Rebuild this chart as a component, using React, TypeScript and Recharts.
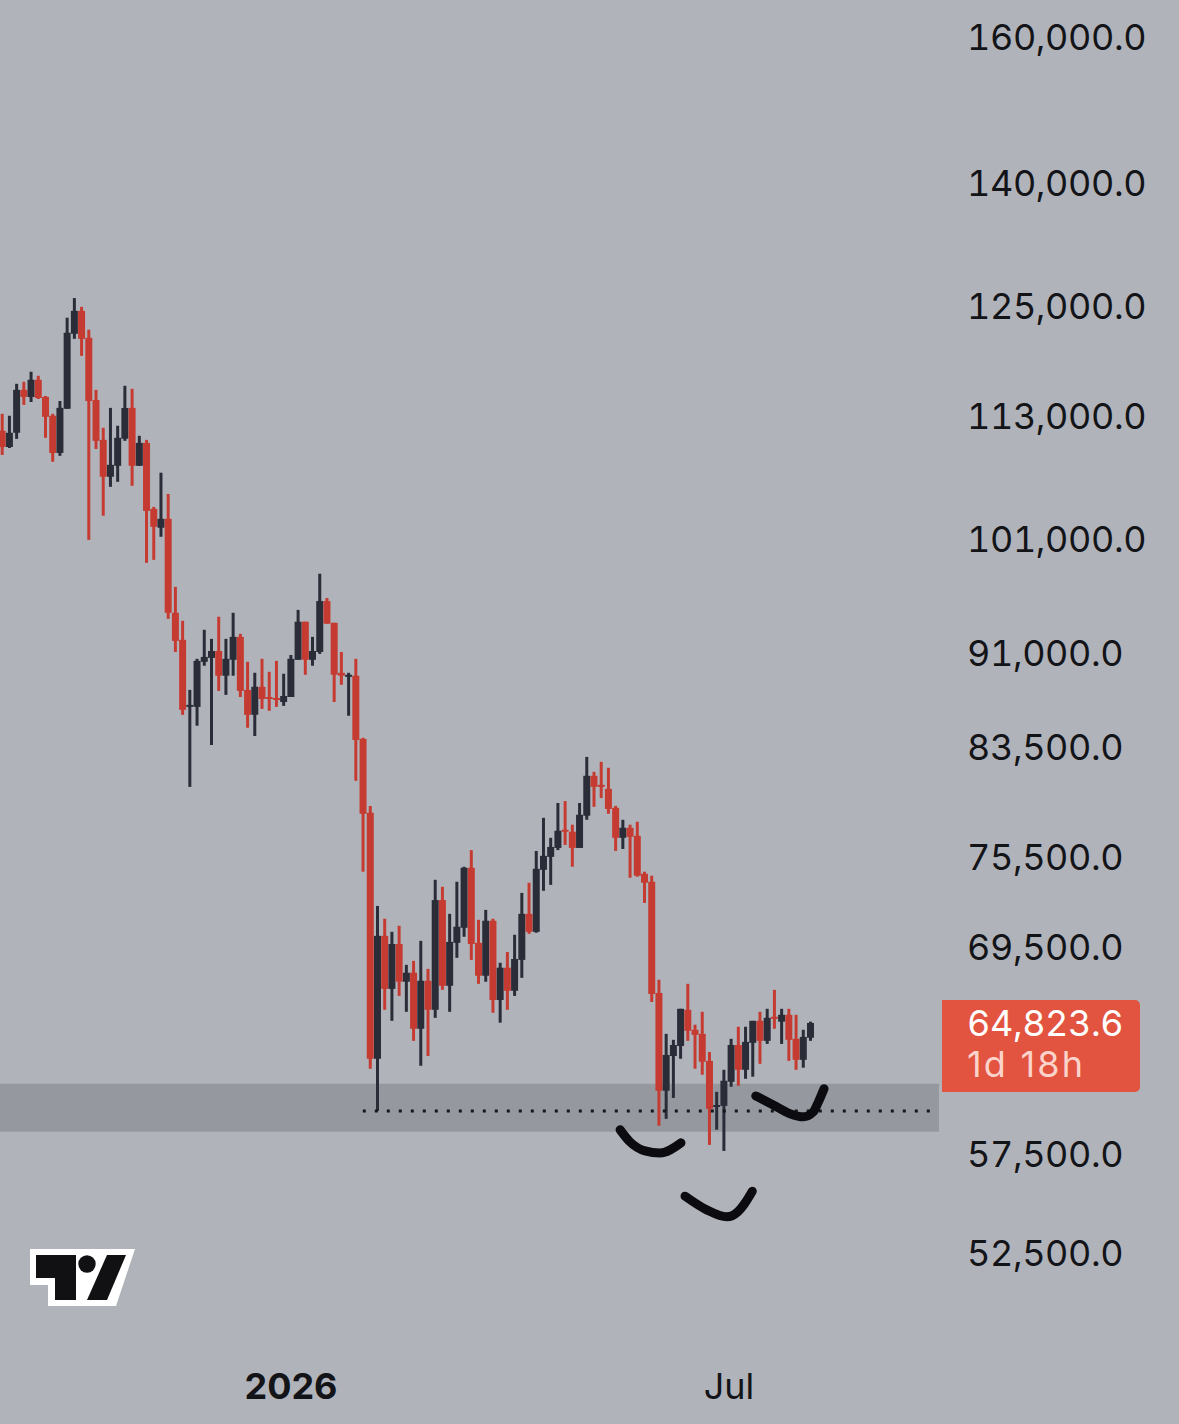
import {
  Bar,
  Cell,
  ComposedChart,
  Line,
  ReferenceArea,
  ReferenceLine,
  XAxis,
  YAxis,
} from "recharts";

const opens = [
  111540, 109890, 111330, 115800, 115050, 116870, 115050, 113080, 109290, 113800,
  121900, 124490, 121450, 114720, 110610, 106930, 108010, 110710, 113900, 108010,
  110300, 103830, 102050, 102890, 94400, 92090, 86600, 86600, 90250, 90580,
  91150, 89110, 90420, 92340, 87960, 85970, 88210, 87390, 87310, 86990,
  87390, 90420, 93630, 90420, 91070, 95420, 93540, 89350, 89020, 89110,
  84100, 78590, 62730, 70210, 66880, 69690, 67320, 67880, 64480, 67380,
  65610, 72550, 67070, 69760, 70730, 74730, 69760, 67690, 71190, 66200,
  68190, 66760, 68680, 71640, 70470, 74590, 75480, 76100, 77380, 77240,
  76100, 78380, 81300, 80630, 80330, 78950, 76810, 77520, 76950, 74320,
  73780, 66630, 60920, 62890, 63470, 65610, 64420, 64180, 62610, 60020,
  60080, 61420, 63530, 62100, 63650, 64950, 63770, 65190, 64900, 65310,
  63890, 62670, 63950,
];

const highs = [
  113280, 113080, 116440, 116660, 117740, 117300, 115150, 113280, 114620, 123710,
  125960, 124950, 122360, 115800, 111840, 113900, 112050, 116230, 115910, 111020,
  110610, 104020, 107330, 105260, 96670, 93710, 87960, 90500, 92940, 92170,
  94060, 92170, 94400, 92600, 90250, 89350, 90500, 89430, 90330, 89270,
  90820, 94650, 93630, 92340, 97840, 95690, 93540, 91070, 89350, 90500,
  84180, 79090, 72160, 71320, 70470, 70860, 68370, 68620, 69890, 68120,
  73910, 73440, 71640, 73780, 74800, 75950, 71250, 71900, 71320, 68500,
  69180, 70280, 73030, 73710, 75890, 78230, 76810, 79300, 79440, 77740,
  79300, 82720, 81600, 82350, 81900, 79090, 78090, 77740, 77950, 74460,
  74190, 67440, 64180, 63830, 65670, 67190, 64720, 65490, 63120, 60860,
  62100, 63890, 64600, 64600, 64950, 65490, 65670, 66820, 65670, 65670,
  65310, 64420, 64900,
];

const lows = [
  109090, 109790, 110710, 114210, 114520, 114830, 110820, 108410, 109000, 113800,
  121340, 119460, 100920, 109690, 103180, 105950, 106440, 110510, 106050, 108010,
  98820, 99090, 101210, 93880, 91070, 85970, 80480, 85120, 89930, 83630,
  87880, 87560, 89110, 87390, 84960, 84330, 86440, 86290, 86600, 86680,
  87390, 90420, 89190, 89930, 90910, 93460, 86990, 88370, 85900, 80930,
  74460, 62160, 59800, 65610, 64950, 66450, 65490, 63770, 62330, 62890,
  65130, 66820, 65490, 68810, 70150, 68680, 67190, 67320, 65430, 64840,
  65610, 66450, 67560, 70340, 70410, 73170, 73570, 75950, 76310, 74800,
  76100, 78090, 79020, 79660, 78520, 75890, 76030, 74050, 74120, 72360,
  66080, 59000, 59370, 60520, 62730, 63770, 62160, 61820, 57970, 58780,
  57650, 61140, 61200, 61590, 61710, 62440, 63590, 64480, 63590, 62610,
  62100, 62220, 63770,
];

const closes = [
  109890, 111330, 115800, 115050, 116870, 114940, 112970, 109290, 113900, 122020,
  124490, 121340, 114620, 110510, 106930, 108110, 110820, 113900, 108010, 110300,
  103640, 102140, 102890, 94400, 92000, 86370, 86760, 90330, 90660, 91150,
  89110, 90500, 92340, 87880, 85970, 88210, 87230, 87230, 87150, 87470,
  90500, 93630, 90420, 91150, 95420, 93460, 89190, 89110, 89190, 84020,
  78520, 62730, 70210, 66880, 69690, 67320, 67880, 64480, 67380, 65610,
  72550, 67070, 69820, 70800, 74730, 69690, 67690, 71190, 66200, 68190,
  66760, 68740, 71640, 70470, 74660, 75550, 76170, 77310, 77240, 76100,
  78450, 81300, 80480, 80480, 78870, 76810, 77520, 76880, 74190, 73710,
  66570, 60920, 62950, 63530, 65670, 64360, 64120, 62560, 59920, 60130,
  61480, 63530, 62100, 63710, 64950, 63770, 65130, 65070, 65310, 63830,
  62670, 64000, 64823.6,
];

const priceTicks = [
  160000, 140000, 125000, 113000, 101000, 91000, 83500, 75500, 69500, 57500,
  52500,
];

const timeTicks = [40, 100.7];
const timeLabels = ["2026", "Jul"];

// support zone and the dotted low under it
const zoneTop = 61310;
const zoneBottom = 58670;
const supportPrice = 59800;
const supportStart = 49.95;
const supportEnd = 129.6;

// the three hand drawn smiles
const arcA = [
  { i: 85.6, price: 58780 },
  { i: 86.97, price: 58130 },
  { i: 89.05, price: 57650 },
  { i: 91.13, price: 57540 },
  { i: 94.04, price: 58080 },
];
const arcB = [
  { i: 94.6, price: 55310 },
  { i: 97.6, price: 54620 },
  { i: 100.37, price: 54270 },
  { i: 101.9, price: 54520 },
  { i: 103.0, price: 55010 },
  { i: 103.92, price: 55560 },
];
const arcC = [
  { i: 104.4, price: 60630 },
  { i: 106.83, price: 60130 },
  { i: 109.14, price: 59650 },
  { i: 110.99, price: 59480 },
  { i: 112.37, price: 59750 },
  { i: 113.07, price: 60290 },
  { i: 113.86, price: 61030 },
];

const data = opens.map((o, i) => ({
  i,
  wick: [lows[i], highs[i]],
  body: [Math.min(o, closes[i]), Math.max(o, closes[i])],
  up: closes[i] >= o,
}));

const xDomain = [-0.319, 129.79];

const RED = "#c63b31";
const DARK = "#2a2c38";
const FONT = "Inter, 'Noto Sans', sans-serif";

function PriceTick(props: any) {
  return (
    <text
      x={967}
      y={props.y}
      dy="0.36em"
      fill="#131418"
      fontFamily={FONT}
      fontSize={36}
      letterSpacing={-0.4}
      style={{ fontVariantNumeric: "tabular-nums" }}
    >
      {props.payload.value.toLocaleString("en-US", {
        minimumFractionDigits: 1,
      })}
    </text>
  );
}

function TimeTick(props: any) {
  const label = timeLabels[timeTicks.indexOf(props.payload.value)];
  return (
    <text
      x={props.x}
      y={1399}
      textAnchor="middle"
      fill="#131418"
      fontFamily={FONT}
      fontSize={36}
      fontWeight={label === "2026" ? 700 : 400}
    >
      {label}
    </text>
  );
}

function App() {
  return (
    <div
      style={{
        position: "absolute",
        left: 0,
        top: 0,
        width: 1179,
        height: 1424,
        background: "#b1b3ba",
        overflow: "hidden",
      }}
    >
      <ComposedChart
        width={1179}
        height={1424}
        data={data}
        margin={{ top: 0, right: 0, bottom: 0, left: 0 }}
      >
        <XAxis
          xAxisId="time"
          dataKey="i"
          type="number"
          domain={xDomain}
          allowDataOverflow
          ticks={timeTicks}
          tick={<TimeTick />}
          interval={0}
          height={74}
          axisLine={false}
          tickLine={false}
        />
        <XAxis
          xAxisId="body"
          dataKey="i"
          type="number"
          domain={xDomain}
          allowDataOverflow
          hide
        />
        <XAxis
          xAxisId="wick"
          dataKey="i"
          type="number"
          domain={xDomain}
          allowDataOverflow
          hide
        />
        <YAxis
          orientation="right"
          scale="log"
          domain={[48037, 165520]}
          allowDataOverflow
          ticks={priceTicks}
          tick={<PriceTick />}
          interval={0}
          width={240}
          axisLine={false}
          tickLine={false}
        />
        <ReferenceArea
          xAxisId="time"
          y1={zoneBottom}
          y2={zoneTop}
          fill="#96989f"
          fillOpacity={1}
          stroke="none"
        />
        <ReferenceLine
          xAxisId="time"
          segment={[
            { x: supportStart, y: supportPrice },
            { x: supportEnd, y: supportPrice },
          ]}
          stroke="#15161a"
          strokeWidth={3}
          strokeDasharray="3 9"
        />
        <Bar
          xAxisId="wick"
          dataKey="wick"
          barSize={3}
          isAnimationActive={false}
        >
          {data.map((d) => (
            <Cell key={d.i} fill={d.up ? DARK : RED} />
          ))}
        </Bar>
        <Bar
          xAxisId="body"
          dataKey="body"
          barSize={7}
          isAnimationActive={false}
        >
          {data.map((d) => (
            <Cell key={d.i} fill={d.up ? DARK : RED} />
          ))}
        </Bar>
        {[arcA, arcB, arcC].map((arc, n) => (
          <Line
            key={n}
            xAxisId="time"
            data={arc}
            dataKey="price"
            type="monotone"
            stroke="#0c0c10"
            strokeWidth={9}
            strokeLinecap="round"
            dot={false}
            activeDot={false}
            isAnimationActive={false}
          />
        ))}
      </ComposedChart>

      {/* last price tag */}
      <div
        style={{
          position: "absolute",
          left: 942,
          top: 1000,
          width: 198,
          height: 92,
          background: "#e2543f",
          borderRadius: "0 5px 5px 0",
          fontFamily: FONT,
          fontSize: 36,
          lineHeight: "41px",
          paddingLeft: 25,
          paddingTop: 3,
          boxSizing: "border-box",
        }}
      >
        <div
          style={{
            color: "#ffffff",
            fontVariantNumeric: "tabular-nums",
            letterSpacing: -0.4,
          }}
        >
          64,823.6
        </div>
        <div style={{ color: "#fbd3cb", letterSpacing: 2.2 }}>1d 18h</div>
      </div>

      {/* TradingView mark */}
      <svg
        width={1179}
        height={1424}
        style={{ position: "absolute", left: 0, top: 0, pointerEvents: "none" }}
      >
        <path d="M30 1249H135L116 1306H48V1285H30Z" fill="#ffffff" />
        <path d="M36 1255H76V1300H55V1278H36Z" fill="#111113" />
        <circle cx={87} cy={1264} r={8.7} fill="#111113" />
        <path d="M107 1255H126L107 1300H87Z" fill="#111113" />
      </svg>
    </div>
  );
}

export default App;
